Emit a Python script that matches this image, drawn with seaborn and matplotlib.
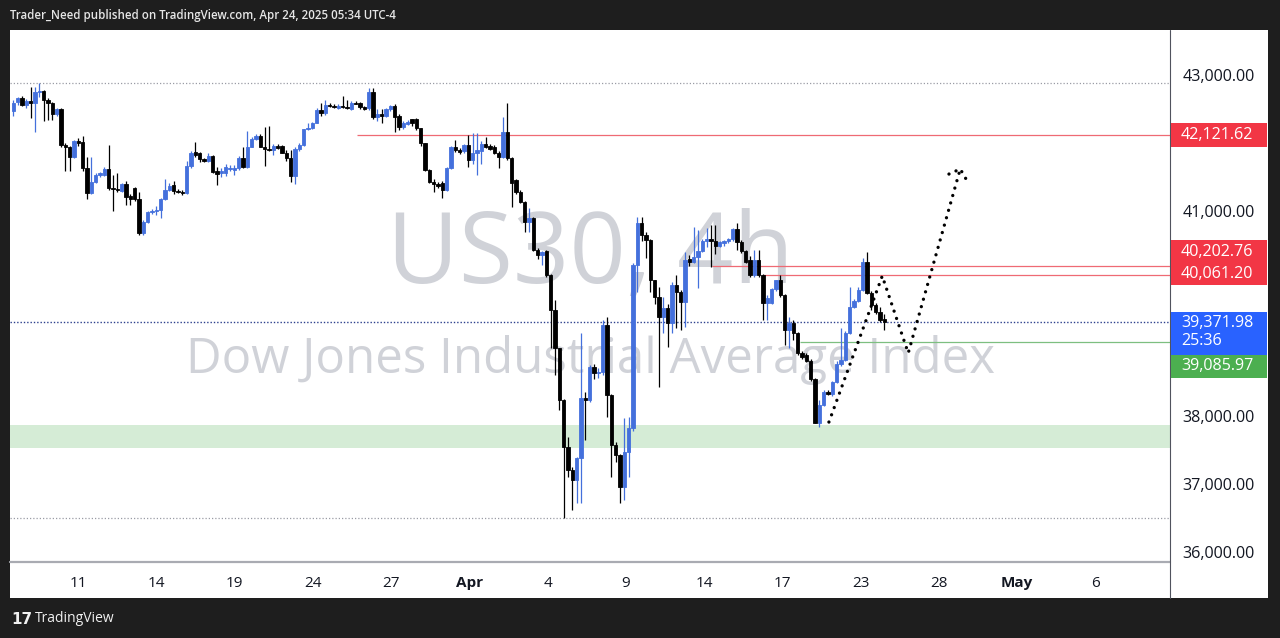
import numpy as np
import pandas as pd
import matplotlib
matplotlib.use("Agg")
import matplotlib.pyplot as plt
import seaborn as sns
from matplotlib.patches import Rectangle
from matplotlib.transforms import IdentityTransform
from matplotlib.ticker import FuncFormatter

# ---------------- data (US30, 4h candles) ----------------
opens = [42477, 42609, 42658, 42560, 42620, 42585, 42755, 42770, 42633, 42585,
         42424, 42497, 41974, 41950, 41800, 42032, 42014, 41632, 41266, 41436,
         41534, 41540, 41622, 41339, 41325, 41300, 41398, 41230, 41340, 41182,
         40680, 40850, 40985, 41005, 41020, 41178, 41314, 41387, 41300, 41290,
         41276, 41665, 41876, 41850, 41770, 41744, 41812, 41600, 41560, 41560,
         41620, 41610, 41633, 41780, 41657, 41950, 42057, 42105, 41950, 41920,
         41905, 41960, 41960, 41860, 41780, 41520, 41910, 41975, 42204, 42228,
         42300, 42490, 42450, 42560, 42545, 42520, 42550, 42530, 42497, 42594,
         42594, 42524, 42510, 42755, 42380, 42424, 42400, 42497, 42545, 42400,
         42233, 42280, 42350, 42350, 42220, 41998, 41607, 41436, 41400, 41410,
         41314, 41632, 41950, 41900, 41880, 41975, 41754, 41860, 41880, 41990,
         41960, 41950, 41860, 41800, 42170, 41780, 41460, 41290, 41143, 40850,
         40900, 40435, 40360, 40420, 40068, 39555, 38993, 38236, 37550, 37210,
         37063, 37380, 38260, 38235, 38724, 38627, 38650, 39335, 38310, 37576,
         37430, 36965, 37480, 37820, 40215, 40826, 40655, 40580, 39995, 39750,
         39457, 39580, 39360, 39920, 39823, 39677, 40300, 40265, 40330, 40420,
         40565, 40600, 40560, 40500, 40540, 40560, 40590, 40740, 40550, 40420,
         40290, 40070, 40290, 40070, 39664, 39660, 39860, 39995, 39775, 39260,
         39370, 39214, 38920, 38895, 38812, 38540, 37903, 38162, 38357, 38325,
         38504, 38763, 38822, 39214, 39604, 39687, 39848, 40263, 39800, 39628,
         39530, 39420]
highs = [42633, 42680, 42692, 42650, 42824, 42830, 42888, 42780, 42660, 42600,
         42520, 42510, 42010, 41960, 42050, 42080, 42100, 41798, 41798, 41560,
         41580, 41650, 41974, 41534, 41560, 41420, 41440, 41260, 41360, 41290,
         40870, 41000, 41040, 41080, 41200, 41475, 41420, 41440, 41330, 41310,
         41740, 41880, 42022, 41870, 41790, 41860, 41830, 41650, 41640, 41690,
         41680, 41680, 41810, 41950, 42183, 42090, 42140, 42130, 42242, 42250,
         41990, 41990, 41975, 41900, 41900, 41950, 42000, 42210, 42290, 42310,
         42510, 42585, 42633, 42590, 42570, 42580, 42692, 42640, 42620, 42620,
         42610, 42540, 42805, 42810, 42500, 42500, 42520, 42560, 42580, 42430,
         42320, 42340, 42360, 42370, 42230, 42010, 41620, 41470, 41430, 41440,
         41650, 41960, 42040, 41930, 41990, 42120, 42145, 42150, 42030, 42095,
         41990, 41970, 41880, 42390, 42585, 41800, 41480, 41310, 41160, 41050,
         40920, 40460, 40420, 40440, 40080, 39700, 39000, 38250, 37700, 37250,
         37400, 39220, 38356, 38750, 38760, 38700, 39408, 39457, 38330, 37620,
         37440, 37970, 37980, 40240, 40923, 40923, 40700, 40600, 40000, 39897,
         39750, 39650, 39970, 40068, 39850, 40410, 40360, 40777, 40727, 40600,
         40760, 40800, 40800, 40570, 40580, 40610, 40760, 40825, 40580, 40440,
         40350, 40440, 40440, 40080, 39780, 39870, 40000, 40068, 39790, 39457,
         39410, 39230, 38950, 38920, 38830, 38560, 38230, 38380, 38380, 38520,
         38800, 39287, 39250, 39897, 39720, 39897, 40313, 40410, 39830, 39660,
         39600, 39490]
lows = [42400, 42560, 42545, 42520, 42370, 42170, 42680, 42320, 42340, 42340,
        42400, 41950, 41598, 41600, 41790, 41960, 41590, 41182, 41250, 41420,
        41510, 41520, 41310, 41006, 41290, 41280, 41100, 41094, 41160, 40660,
        40660, 40830, 40960, 40950, 40900, 41170, 41300, 41250, 41270, 41240,
        41250, 41640, 41800, 41730, 41720, 41730, 41570, 41387, 41500, 41520,
        41600, 41540, 41610, 41640, 41640, 41940, 42040, 41940, 41666, 41880,
        41820, 41920, 41850, 41740, 41436, 41400, 41890, 41960, 42190, 42210,
        42290, 42400, 42420, 42530, 42510, 42500, 42520, 42500, 42480, 42570,
        42500, 42490, 42490, 42360, 42320, 42296, 42380, 42470, 42170, 42200,
        42210, 42260, 42250, 42200, 41960, 41590, 41420, 41290, 41350, 41192,
        41300, 41620, 41870, 41840, 41860, 41656, 41700, 41534, 41700, 41930,
        41900, 41840, 41640, 41780, 41760, 41070, 41260, 41120, 40700, 40700,
        40420, 40300, 40215, 40040, 38993, 38600, 38090, 36505, 37110, 36623,
        36725, 36730, 37650, 38200, 38540, 38560, 38600, 37990, 37110, 37330,
        36720, 36770, 37100, 37780, 39823, 40560, 40320, 39823, 39650, 38430,
        39213, 39017, 39213, 39290, 39260, 39310, 40200, 40240, 39874, 40400,
        40480, 40190, 40380, 40480, 40500, 40540, 40570, 40430, 40390, 40250,
        40040, 40040, 40040, 39408, 39408, 39640, 39840, 39740, 39040, 38993,
        39120, 38900, 38840, 38790, 38520, 37894, 37845, 38140, 38310, 38300,
        38480, 38740, 38800, 39200, 39580, 39670, 39840, 39790, 39550, 39500,
        39380, 39262]
closes = [42594, 42658, 42560, 42620, 42595, 42755, 42760, 42633, 42585, 42424,
          42497, 41974, 41950, 41794, 42032, 41999, 41632, 41266, 41436, 41534,
          41560, 41622, 41339, 41325, 41310, 41398, 41216, 41178, 41182, 40680,
          40850, 40985, 41005, 41020, 41178, 41314, 41380, 41300, 41290, 41266,
          41665, 41860, 41827, 41764, 41740, 41812, 41583, 41545, 41600, 41650,
          41640, 41630, 41780, 41657, 41950, 42057, 42100, 41950, 41920, 41900,
          41960, 41930, 41860, 41780, 41520, 41910, 41975, 42204, 42228, 42300,
          42490, 42450, 42560, 42545, 42530, 42550, 42530, 42510, 42594, 42580,
          42524, 42505, 42755, 42380, 42424, 42400, 42497, 42545, 42390, 42233,
          42300, 42310, 42300, 42220, 41998, 41607, 41436, 41400, 41380, 41314,
          41632, 41950, 41900, 41870, 41975, 41754, 41860, 41900, 41990, 41950,
          41920, 41860, 41800, 42170, 41780, 41410, 41290, 41143, 40850, 40900,
          40435, 40360, 40400, 40068, 39555, 38993, 38236, 37550, 37210, 37063,
          37380, 38260, 38235, 38724, 38627, 38650, 39335, 38310, 37576, 37430,
          36965, 37480, 37820, 40215, 40826, 40655, 40580, 39995, 39750, 39457,
          39580, 39360, 39920, 39823, 39677, 40290, 40265, 40330, 40420, 40565,
          40600, 40560, 40500, 40550, 40560, 40590, 40740, 40550, 40420, 40265,
          40070, 40290, 40070, 39664, 39730, 39860, 39990, 39775, 39260, 39370,
          39214, 38920, 38870, 38812, 38540, 37903, 38162, 38357, 38325, 38504,
          38763, 38822, 39214, 39604, 39687, 39848, 40263, 39800, 39628, 39530,
          39408, 39372]

date_labels = ["11", "14", "19", "24", "27", "Apr", "4", "9", "14", "17", "23", "28", "May", "6"]
bold_labels = ["Apr", "May"]
# price scale labels that remain visible (the others sit under the price tags)
price_ticks = [36000, 37000, 38000, 41000, 43000]

resistance_top = 42121.62
resistance_mid = 40202.76
resistance_low = 40061.20
last_price = 39371.98
support_green = 39085.97
countdown = "25:36"
zone_low, zone_high = 37530, 37870

# line start positions (candle index where each drawn level begins)
resistance_top_start = 79.3
resistance_mid_start = 161.2
resistance_low_start = 173.0
support_green_start = 181.6

# hand-drawn forecast path (candle index, price)
forecast_x = [188.2, 200.5, 206.5, 218.5]
forecast_y = [37912, 40053, 38924, 41622]
arrow_x = [215.9, 218.5, 220.1]
arrow_y = [41548, 41622, 41446]

df = pd.DataFrame({"o": opens, "h": highs, "l": lows, "c": closes})
df["i"] = np.arange(len(df))

# ---------------- figure ----------------
sns.set_theme(style="white")
plt.rcParams["font.family"] = ["Open Sans", "DejaVu Sans"]

W, H = 1280, 638
fig = plt.figure(figsize=(W / 100, H / 100), dpi=100, facecolor="#1e1e1e")

def fx(px):
    return px / W

def fy(py):
    return 1 - py / H

# white chart panel
fig.patches.append(Rectangle((fx(10), fy(598)), fx(1268) - fx(10), fy(30) - fy(598),
                             transform=fig.transFigure, facecolor="white",
                             edgecolor="none", zorder=-2))

ax = fig.add_axes([fx(10), fy(562), fx(1170) - fx(10), fy(30) - fy(562)])
ax.set_facecolor("white")
for s in ax.spines.values():
    s.set_visible(False)

ax.set_xlim(-0.76, 266.9)
ax.set_ylim(35860, 43660)

UP = "#4470dc"
DOWN = "#000000"
up = df["c"] >= df["o"]
cols = np.where(up, UP, DOWN)

# zone
ax.axhspan(zone_low, zone_high, color="#d5ecd6", zorder=0.5, lw=0)

# watermark
ax.text(0.5, 0.524, "US30, 4h", transform=ax.transAxes, ha="center", va="baseline",
        fontsize=71, color="#d0d2d8", zorder=0.6)
ax.text(0.5, 0.355, "Dow Jones Industrial Average Index", transform=ax.transAxes,
        ha="center", va="baseline", fontsize=35.5, color="#d0d2d8", zorder=0.6)

# range high / low dotted
ax.axhline(df["h"].max(), color="#9a9ca5", lw=0.9, ls=(0, (1, 1.6)), zorder=1)
ax.axhline(df["l"].min(), color="#9a9ca5", lw=0.9, ls=(0, (1, 1.6)), zorder=1)

# levels
xr = ax.get_xlim()[1]
ax.hlines(resistance_top, resistance_top_start, xr, color="#ef6a74", lw=0.9, zorder=1)
ax.hlines(resistance_mid, resistance_mid_start, xr, color="#ef6a74", lw=0.9, zorder=1)
ax.hlines(resistance_low, resistance_low_start, xr, color="#ef6a74", lw=0.9, zorder=1)
ax.hlines(support_green, support_green_start, xr, color="#7dbf80", lw=0.9, zorder=1)
ax.axhline(last_price, color="#2b3f8c", lw=1.0, ls=(0, (1, 1.4)), zorder=1)

# candles
ax.vlines(df["i"], df["l"], df["h"], colors=cols, lw=0.9, zorder=2)
ax.bar(df["i"], df["c"] - df["o"], bottom=df["o"], width=0.74, color=cols,
       edgecolor=cols, linewidth=0.6, zorder=3)

# forecast path
dot_style = dict(color="black", lw=2.4, dash_capstyle="round")
sns.lineplot(x=forecast_x, y=forecast_y, sort=False, estimator=None, ax=ax,
             linestyle=(0, (0.01, 2.3)), zorder=4, **dot_style)
ax.plot(arrow_x, arrow_y, linestyle=(0, (0.01, 2.3)), zorder=4, **dot_style)

# y axis on the right
ax.yaxis.tick_right()
ax.set_yticks(price_ticks)
ax.yaxis.set_major_formatter(FuncFormatter(lambda v, p: f"{v:,.2f}"))
ax.tick_params(axis="y", length=0, pad=9, labelsize=11.6, labelcolor="#131722")

# x axis
tick_pos = [15 + 18.05 * k for k in range(len(date_labels))]
ax.set_xticks(tick_pos)
ax.set_xticklabels(date_labels)
ax.tick_params(axis="x", length=0, pad=10, labelsize=11, labelcolor="#131722")
for t in ax.get_xticklabels():
    if t.get_text() in bold_labels:
        t.set_fontweight("bold")
ax.grid(False)

# separators
fig.lines.append(plt.Line2D([fx(10), fx(1170)], [fy(562), fy(562)], transform=fig.transFigure,
                            color="#a9abb2", lw=1.6, zorder=6))
fig.lines.append(plt.Line2D([fx(1170), fx(1170)], [fy(30), fy(598)], transform=fig.transFigure,
                            color="#50535e", lw=0.8, zorder=6))

# price tags on the right scale
fig.canvas.draw()

def pix(price):
    return ax.transData.transform((0, price))[1]

def tag(price, text, color, top_off, bot_off, text_off=0.0, sub=None):
    yc = pix(price)
    top = yc + top_off
    bot = yc - bot_off
    fig.patches.append(Rectangle((1171, bot), 96, top - bot, transform=IdentityTransform(),
                                 facecolor=color, edgecolor="none", zorder=7))
    fig.text(fx(1181), (yc + text_off) / H, text, ha="left", va="center",
             fontsize=11.6, color="white", zorder=8)
    if sub is not None:
        fig.text(fx(1181), (yc + text_off - 18) / H, sub, ha="left", va="center",
                 fontsize=11.6, color="white", zorder=8)

tag(resistance_top, "42,121.62", "#f23645", 11.5, 12)
tag(resistance_mid, "40,202.76", "#f23645", 26, -2.5, text_off=14)
tag(resistance_low, "40,061.20", "#f23645", 12.5, 10, text_off=1.5)
tag(last_price, "39,371.98", "#2962ff", 10.5, 33, text_off=-0.5, sub=countdown)
tag(support_green, "39,085.97", "#4caf50", -13, 36, text_off=-24.5)

# header and footer
fig.text(fx(10), fy(15), "Trader_Need published on TradingView.com, Apr 24, 2025 05:34 UTC-4",
         ha="left", va="center", fontsize=8.3, color="#e6e6e6", fontweight="semibold")
fig.text(fx(11), fy(619), "17", ha="left", va="center", fontsize=11, color="#f0f0f0",
         fontweight="heavy", family=["DejaVu Sans"])
fig.text(fx(35), fy(619), "TradingView", ha="left", va="center", fontsize=10, color="#f0f0f0")

fig.savefig("out.png", dpi=100, facecolor=fig.get_facecolor())
